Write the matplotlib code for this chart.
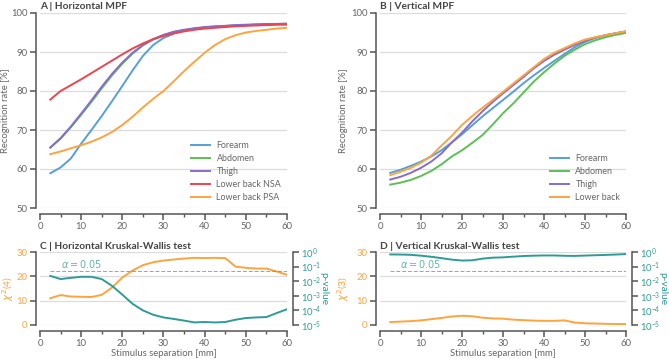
import numpy as np
import matplotlib
matplotlib.use('Agg')
import matplotlib.pyplot as plt
from matplotlib.ticker import MultipleLocator, FixedLocator

plt.rcParams['font.family'] = ['Lato', 'DejaVu Sans']

# stimulus separation [mm]
sep = [2.5, 5, 7.5, 10, 12.5, 15, 17.5, 20, 22.5, 25, 27.5, 30,
       32.5, 35, 37.5, 40, 42.5, 45, 47.5, 50, 52.5, 55, 57.5, 60]

# A | horizontal MPF recognition rate [%]
h_forearm = [58.9, 60.4, 62.7, 66.5, 70.0, 73.6, 77.4, 81.3, 85.3, 89.0, 91.8, 93.6,
             94.7, 95.4, 95.9, 96.2, 96.4, 96.6, 96.8, 96.9, 97.0, 97.1, 97.2, 97.2]
h_abdomen = [65.5, 67.8, 70.7, 73.9, 77.2, 80.7, 84.0, 87.0, 89.6, 91.7, 93.2, 94.3,
             95.1, 95.6, 96.0, 96.3, 96.5, 96.7, 96.8, 96.9, 97.0, 97.1, 97.1, 97.2]
h_thigh = [65.5, 67.9, 70.9, 74.2, 77.6, 81.1, 84.4, 87.3, 89.8, 91.8, 93.3, 94.4,
           95.2, 95.7, 96.1, 96.4, 96.6, 96.7, 96.9, 97.0, 97.1, 97.2, 97.2, 97.3]
h_nsa = [77.8, 80.0, 81.5, 83.0, 84.6, 86.2, 87.8, 89.4, 90.9, 92.2, 93.3, 94.1,
         94.8, 95.3, 95.7, 96.0, 96.2, 96.4, 96.6, 96.7, 96.8, 96.9, 97.0, 97.0]
h_psa = [63.8, 64.5, 65.3, 66.1, 67.0, 68.1, 69.5, 71.3, 73.4, 75.8, 78.0, 80.0,
         82.5, 85.1, 87.5, 89.8, 91.8, 93.3, 94.3, 95.0, 95.4, 95.7, 96.0, 96.2]

# B | vertical MPF recognition rate [%]
v_forearm = [59.0, 59.8, 60.8, 61.9, 63.2, 64.8, 66.8, 68.9, 71.2, 73.5, 75.6, 77.7,
             79.8, 82.0, 84.0, 85.9, 87.7, 89.5, 91.2, 92.6, 93.6, 94.3, 94.8, 95.2]
v_abdomen = [56.0, 56.5, 57.2, 58.2, 59.5, 61.2, 63.2, 64.8, 66.7, 68.7, 71.4, 74.3,
             76.8, 79.6, 82.4, 84.8, 87.0, 89.0, 90.6, 92.0, 93.0, 93.8, 94.4, 94.9]
v_thigh = [57.3, 58.0, 59.0, 60.3, 61.9, 64.0, 66.8, 69.3, 72.2, 74.8, 77.2, 79.4,
           81.5, 83.6, 85.8, 87.7, 89.3, 90.6, 91.8, 92.9, 93.7, 94.3, 94.8, 95.3]
v_lowback = [58.4, 59.3, 60.3, 61.6, 63.4, 66.0, 68.5, 71.3, 73.6, 75.7, 77.7, 79.8,
             81.9, 84.0, 86.1, 88.2, 89.8, 91.0, 92.2, 93.2, 93.8, 94.3, 94.8, 95.3]

# C | horizontal Kruskal-Wallis: chi2(4) and p-value
h_chi2 = [11.0, 12.3, 11.7, 11.6, 11.5, 12.4, 15.4, 19.5, 22.4, 24.6, 25.8, 26.5,
          26.9, 27.3, 27.6, 27.5, 27.6, 27.5, 24.0, 23.5, 23.2, 23.2, 22.0, 20.6]
h_p = [2.3e-2, 1.4e-2, 1.7e-2, 2.0e-2, 2.0e-2, 1.4e-2, 4.8e-3, 1.2e-3, 2.8e-4, 1.0e-4,
       5.0e-5, 3.3e-5, 2.6e-5, 2.0e-5, 1.5e-5, 1.6e-5, 1.5e-5, 1.6e-5, 2.3e-5, 3.0e-5,
       3.3e-5, 3.5e-5, 6.6e-5, 1.2e-4]

# D | vertical Kruskal-Wallis: chi2(3) and p-value
v_chi2 = [1.2, 1.4, 1.6, 1.9, 2.4, 2.9, 3.5, 3.8, 3.6, 3.0, 2.7, 2.6,
          2.2, 2.0, 1.8, 1.7, 1.7, 1.9, 1.0, 0.7, 0.6, 0.5, 0.4, 0.4]
v_p = [0.68, 0.67, 0.64, 0.56, 0.47, 0.38, 0.30, 0.26, 0.27, 0.35, 0.41, 0.43,
       0.48, 0.53, 0.56, 0.58, 0.58, 0.55, 0.54, 0.57, 0.60, 0.63, 0.67, 0.72]

alpha = 0.05

BLUE = '#55a0d6'
GREEN = '#5dbf57'
PURPLE = '#8a6cc8'
RED = '#ee4350'
ORANGE = '#ffa33f'
TEAL = '#2e9c96'
GRID = '#dcdcdc'
SPINE = '#555555'
TXT = '#666666'

FS = 6.8

W, H = 669, 359
fig = plt.figure(figsize=(W / 100, H / 100), dpi=100)


def px_axes(l, t, r, b):
    return fig.add_axes([l / W, 1 - b / H, (r - l) / W, (b - t) / H])


def style(ax, ylim, yticks, label_color=TXT, tick_color=SPINE):
    ax.set_xlim(0, 60)
    ax.set_ylim(*ylim)
    ax.set_yticks(yticks)
    ax.xaxis.set_major_locator(MultipleLocator(10))
    ax.xaxis.set_minor_locator(MultipleLocator(5))
    for s in ['top', 'right']:
        ax.spines[s].set_visible(False)
    ax.spines['left'].set_position(('outward', 3))
    ax.spines['bottom'].set_position(('outward', 4))
    ax.spines['left'].set_bounds(ylim[0], ylim[1])
    ax.spines['bottom'].set_bounds(0, 60)
    for s in ['left', 'bottom']:
        ax.spines[s].set_color(SPINE)
        ax.spines[s].set_linewidth(1.1)
    ax.tick_params(axis='x', which='major', length=4, width=1.1, color=SPINE,
                   labelsize=FS, labelcolor=TXT, pad=2)
    ax.tick_params(axis='x', which='minor', length=2.5, width=1.0, color=SPINE)
    ax.tick_params(axis='y', length=4, width=1.1, color=tick_color,
                   labelsize=FS, labelcolor=label_color, pad=2)
    for y in yticks:
        ax.axhline(y, color=GRID, lw=0.9, zorder=0)
    ax.patch.set_visible(False)


def title(ax, s):
    ax.text(0, 1.01, s, transform=ax.transAxes, ha='left', va='bottom',
            fontsize=7.3, fontweight='bold', color='#444444')


def legend(ax):
    leg = ax.legend(loc='lower right', frameon=False, fontsize=6.4,
                    handlelength=2.2, handletextpad=0.7, labelspacing=0.45,
                    borderaxespad=0.25)
    for t in leg.get_texts():
        t.set_color(TXT)


# A
axA = px_axes(40, 13, 287, 208)
axA.plot(sep, h_forearm, color=BLUE, lw=1.4, label='Forearm')
axA.plot(sep, h_abdomen, color=GREEN, lw=1.4, label='Abdomen')
axA.plot(sep, h_thigh, color=PURPLE, lw=1.4, label='Thigh')
axA.plot(sep, h_nsa, color=RED, lw=1.4, label='Lower back NSA')
axA.plot(sep, h_psa, color=ORANGE, lw=1.4, label='Lower back PSA')
style(axA, (50, 100), [50, 60, 70, 80, 90, 100])
axA.set_ylabel('Recognition rate [%]', fontsize=FS, color=TXT)
axA.yaxis.set_label_coords(-0.121, 0.5)
title(axA, 'A | Horizontal MPF')
legend(axA)

# B
axB = px_axes(380, 13, 626, 208)
axB.plot(sep, v_forearm, color=BLUE, lw=1.4, label='Forearm')
axB.plot(sep, v_abdomen, color=GREEN, lw=1.4, label='Abdomen')
axB.plot(sep, v_thigh, color=PURPLE, lw=1.4, label='Thigh')
axB.plot(sep, v_lowback, color=ORANGE, lw=1.4, label='Lower back')
style(axB, (50, 100), [50, 60, 70, 80, 90, 100])
axB.set_ylabel('Recognition rate [%]', fontsize=FS, color=TXT)
axB.yaxis.set_label_coords(-0.13, 0.5)
title(axB, 'B | Vertical MPF')
legend(axB)


def kw_panel(l, r, chi2, p, dof, name, lx, rx):
    ax = px_axes(l, 252, r, 325)
    style(ax, (0, 30), [0, 10, 20, 30], label_color=ORANGE)
    ax.plot(sep, chi2, color=ORANGE, lw=1.4, zorder=3)
    ax.set_ylabel(r'$\chi^2$' + '(%d)' % dof, fontsize=7.5, color=ORANGE)
    ax.yaxis.set_label_coords(lx, 0.5)
    ax.set_xlabel('Stimulus separation [mm]', fontsize=FS, color=TXT, labelpad=1)
    title(ax, name)

    ax2 = ax.twinx()
    ax2.set_yscale('log')
    ax2.set_ylim(1e-5, 1)
    ax2.yaxis.set_major_locator(FixedLocator([1e-5, 1e-4, 1e-3, 1e-2, 1e-1, 1]))
    ax2.yaxis.set_minor_locator(FixedLocator([]))
    for s in ['top', 'left', 'bottom']:
        ax2.spines[s].set_visible(False)
    ax2.spines['right'].set_position(('outward', 4))
    ax2.spines['right'].set_color(SPINE)
    ax2.spines['right'].set_linewidth(1.1)
    ax2.tick_params(axis='y', length=4, width=1.1, color=SPINE, labelsize=FS,
                    labelcolor=TEAL, pad=2)
    ax2.plot(sep, p, color=TEAL, lw=1.4, zorder=3)
    ax2.plot([sep[0], sep[-1]], [alpha, alpha], color=TEAL, lw=0.7,
             ls=(0, (4, 2)), alpha=0.7)
    ax2.text(5, alpha * 1.2, r'$\alpha = 0.05$', color=TEAL, alpha=0.75,
             fontsize=7, ha='left', va='bottom')
    ax2.set_ylabel('p-value', fontsize=7.3, color=TEAL, rotation=270, va='center')
    ax2.yaxis.set_label_coords(rx, 0.5)
    return ax, ax2


kw_panel(40, 287, h_chi2, h_p, 4, 'C | Horizontal Kruskal-Wallis test', -0.097, 1.15)
kw_panel(380, 626, v_chi2, v_p, 3, 'D | Vertical Kruskal-Wallis test', -0.118, 1.15)

fig.savefig('out.png', dpi=100)
